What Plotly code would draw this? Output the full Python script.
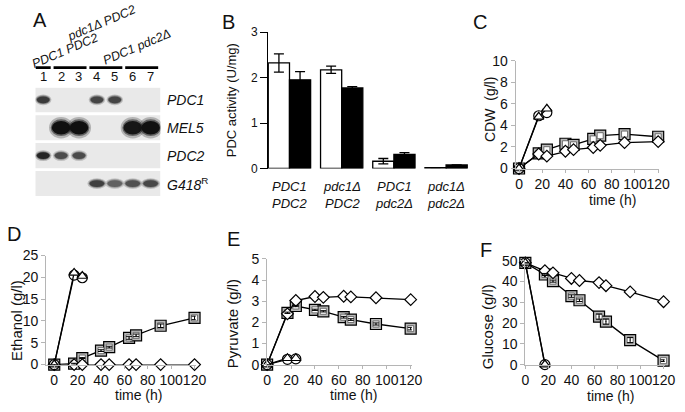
import plotly.graph_objects as go

W, H = 685, 412
FONT = "Liberation Sans, Arial, sans-serif"

# ---------------- data ----------------
# Panel A: Northern blot
lanes = [1, 2, 3, 4, 5, 6, 7]
blot_row_labels = ["<i>PDC1</i>", "<i>MEL5</i>", "<i>PDC2</i>", "<i>G418</i><sup>R</sup>"]
band_intensity = [
    [0.80, 0.00, 0.00, 0.75, 0.75, 0.00, 0.00],
    [0.00, 1.00, 1.00, 0.00, 0.00, 0.97, 1.00],
    [0.90, 0.72, 0.72, 0.00, 0.00, 0.00, 0.00],
    [0.00, 0.00, 0.00, 0.78, 0.62, 0.70, 0.74],
]
lane_groups = [(1, 1), (2, 3), (4, 5), (6, 7)]
group_labels = ["<i>PDC1 PDC2</i>", "<i>pdc1Δ PDC2</i>", "<i>PDC1 pdc2Δ</i>"]

# Panel B: PDC activity
strains = ["<i>PDC1</i><br><i>PDC2</i>", "<i>pdc1Δ</i><br><i>PDC2</i>",
           "<i>PDC1</i><br><i>pdc2Δ</i>", "<i>pdc1Δ</i><br><i>pdc2Δ</i>"]
pdc_white = [2.32, 2.17, 0.16, 0.02]
pdc_white_err = [0.20, 0.08, 0.06, 0.0]
pdc_black = [1.95, 1.77, 0.31, 0.08]
pdc_black_err = [0.18, 0.03, 0.04, 0.0]

# Panels C-F: time courses
t_fast = [0, 17, 24]
t_slow = [0, 17, 24, 40, 47, 64, 70, 91, 120]
t_glc_fast = [0, 17]

cdw_circle = [0, 4.9, 5.2]
cdw_triangle = [0, 4.8, 5.55]
cdw_square = [0, 1.4, 1.75, 2.3, 2.2, 2.75, 3.05, 3.2, 2.95]
cdw_diamond = [0, 1.35, 1.15, 1.6, 1.75, 1.95, 2.15, 2.4, 2.5]

eth_circle = [0, 20.5, 19.9]
eth_triangle = [0, 21.0, 20.3]
eth_square = [0, 0.2, 1.5, 3.2, 4.0, 6.1, 6.7, 8.9, 10.7]
eth_square_err = [0, 0.1, 0.1, 0.2, 0.2, 0.3, 0.3, 0.4, 0.4]
eth_diamond = [0, 0, 0, 0, 0, 0, 0, 0, 0]

pyr_circle = [0, 0.25, 0.27]
pyr_triangle = [0, 0.3, 0.3]
pyr_square = [0, 2.45, 2.77, 2.59, 2.52, 2.24, 2.13, 1.92, 1.70]
pyr_square_err = [0, 0.03, 0.03, 0.03, 0.03, 0.04, 0.04, 0.05, 0.06]
pyr_diamond = [0, 2.40, 3.03, 3.22, 3.18, 3.23, 3.20, 3.16, 3.07]

glc_circle = [49, 0]
glc_triangle = [49, 0]
glc_square = [49, 43.4, 40.2, 33.0, 31.0, 23.1, 20.7, 11.8, 1.9]
glc_square_err = [0, 0.5, 0.5, 0.6, 0.6, 1.2, 1.2, 1.2, 0.4]
glc_diamond = [49, 45.2, 44.2, 41.5, 40.5, 39.5, 38.0, 35.0, 30.3]


# ---------------- helpers ----------------
def fx(px):
    return px / W


def fy(py):
    return 1 - py / H


def dom_x(a, b):
    return [a / W, b / W]


def dom_y(top, bottom):
    return [1 - bottom / H, 1 - top / H]


fig = go.Figure()
shapes = []
annotations = []


def ann(text, x, y, size=13, xref="paper", yref="paper", angle=0, xanchor="center",
        yanchor="middle", color="#111"):
    annotations.append(dict(text=text, x=x, y=y, xref=xref, yref=yref, showarrow=False,
                            textangle=angle, xanchor=xanchor, yanchor=yanchor,
                            font=dict(family=FONT, size=size, color=color)))


# ---------------- Panel A ----------------
A_X = (32, 160)
A_Y = (83, 198)
ax_range = [0.56, 7.55]
ay_range = [3.53, -0.43]
lane_px = (A_X[1] - A_X[0]) / (ax_range[1] - ax_range[0])
row_px = (A_Y[1] - A_Y[0]) / (ay_range[0] - ay_range[1])
band_w_px = [13, 19, 13, 15]
band_h_px = [7, 14, 7, 7]

fig.add_trace(go.Scatter(x=[lanes[0]], y=[0], mode="markers", marker=dict(opacity=0),
                         xaxis="x", yaxis="y", hoverinfo="skip", showlegend=False))

for r, row in enumerate(band_intensity):
    shapes.append(dict(type="rect", xref="x", yref="y", x0=ax_range[0], x1=ax_range[1],
                       y0=r - 0.45, y1=r + 0.45, fillcolor="#e9e9e9", line=dict(width=0),
                       layer="below"))
    for lane, inten in zip(lanes, row):
        if inten <= 0:
            continue
        v = int(round(228 - 212 * inten))
        col = f"rgb({v},{v},{v})"
        hw = band_w_px[r] / lane_px / 2
        hh = band_h_px[r] / row_px / 2
        for scale_w, scale_h, op in [(1.3, 1.6, 0.25), (1.12, 1.25, 0.5), (1.0, 1.0, 1.0)]:
            shapes.append(dict(type="circle", xref="x", yref="y",
                               x0=lane - hw * scale_w, x1=lane + hw * scale_w,
                               y0=r - hh * scale_h, y1=r + hh * scale_h,
                               fillcolor=col, opacity=op, line=dict(width=0)))
    ann(blot_row_labels[r], fx(165), r, size=14, yref="y", xanchor="left")

for lane in lanes:
    ann(str(lane), lane, fy(71), size=13, xref="x")

for lo, hi in lane_groups:
    shapes.append(dict(type="line", xref="x", yref="paper", x0=lo - 0.42, x1=hi + 0.42,
                       y0=fy(62), y1=fy(62), line=dict(color="black", width=2.6)))

for lbl, (px, py) in zip(group_labels, [(62, 45), (100, 16), (136, 41)]):
    ann(lbl, fx(px), fy(py), size=12.5, angle=-23)

# ---------------- Panel B ----------------
fig.add_trace(go.Bar(x=list(range(len(strains))), y=pdc_white, xaxis="x2", yaxis="y2",
                     marker=dict(color="white", line=dict(color="black", width=1.3)),
                     error_y=dict(type="data", array=pdc_white_err, color="black",
                                  thickness=1.3, width=5),
                     showlegend=False, offsetgroup="w"))
fig.add_trace(go.Bar(x=list(range(len(strains))), y=pdc_black, xaxis="x2", yaxis="y2",
                     marker=dict(color="black", line=dict(color="black", width=1.3)),
                     error_y=dict(type="data", array=pdc_black_err, color="black",
                                  thickness=1.3, width=5),
                     showlegend=False, offsetgroup="b"))
for i, s in enumerate(strains):
    ann(s, i, fy(176), size=13, xref="x2", yanchor="top")


# ---------------- Panels C-F ----------------
def add_panel(xa, ya, circ, tri, sq, sq_err, dia, t_c):
    line = dict(color="black", width=1.3)
    common = dict(xaxis=xa, yaxis=ya, showlegend=False, cliponaxis=False, hoverinfo="skip")
    fig.add_trace(go.Scatter(x=t_slow, y=sq, mode="lines+markers", line=line,
                             marker=dict(symbol="square", size=11, color="#b8b8b8",
                                         line=dict(color="black", width=1.2)), **common))
    fig.add_trace(go.Scatter(x=t_slow, y=sq, mode="markers",
                             marker=dict(symbol="square", size=6, color="white",
                                         line=dict(color="#555", width=0.8)), **common))
    fig.add_trace(go.Scatter(x=t_slow, y=dia, mode="lines+markers", line=line,
                             marker=dict(symbol="diamond", size=9, color="white",
                                         line=dict(color="black", width=1.2)), **common))
    fig.add_trace(go.Scatter(x=t_c, y=circ, mode="lines+markers", line=line,
                             marker=dict(symbol="circle", size=10, color="white",
                                         line=dict(color="black", width=1.2)), **common))
    fig.add_trace(go.Scatter(x=t_c, y=tri, mode="lines+markers", line=line,
                             marker=dict(symbol="triangle-up", size=9, color="white",
                                         line=dict(color="black", width=1.2)), **common))
    if sq_err is not None:
        fig.add_trace(go.Scatter(x=t_slow, y=sq, mode="markers",
                                 marker=dict(size=1, color="black"),
                                 error_y=dict(type="data", array=sq_err, color="black",
                                              thickness=1, width=3), **common))


add_panel("x3", "y3", cdw_circle, cdw_triangle, cdw_square, None, cdw_diamond, t_fast)
add_panel("x4", "y4", eth_circle, eth_triangle, eth_square, eth_square_err, eth_diamond, t_fast)
add_panel("x5", "y5", pyr_circle, pyr_triangle, pyr_square, pyr_square_err, pyr_diamond, t_fast)
add_panel("x6", "y6", glc_circle, glc_triangle, glc_square, glc_square_err, glc_diamond,
          t_glc_fast)


def ts_axes(xpx, ypx, xr, yr, dy, fs, name):
    gray = "#b5b5b5"
    xa = dict(domain=dom_x(*xpx), range=xr, dtick=20, tick0=0, showline=True, linecolor=gray,
              linewidth=1, ticks="outside", ticklen=3, tickcolor=gray, showgrid=False,
              zeroline=False, tickangle=0, anchor="y" + name,
              tickfont=dict(family=FONT, size=fs, color="#111"))
    ya = dict(domain=dom_y(*ypx), range=yr, dtick=dy, tick0=0, showline=True, linecolor=gray,
              linewidth=1, ticks="outside", ticklen=4, tickcolor=gray, showgrid=False,
              zeroline=False, tickangle=0, anchor="x" + name,
              tickfont=dict(family=FONT, size=fs, color="#111"))
    return xa, ya


x3, y3 = ts_axes((523, 670), (55, 167), [-3, 121], [0, 10], 2, 14, "3")
x4, y4 = ts_axes((43, 196), (257.5, 371), [-7, 121], [0, 25], 5, 14, "4")
x5, y5 = ts_axes((269, 417), (261, 371), [0, 121], [0, 5], 1, 14, "5")
x6, y6 = ts_axes((533, 675.5), (263, 371), [0, 121], [0, 50], 10, 14, "6")

# axis titles
ann("time (h)", fx(622), fy(200), size=14)
ann("CDW  (g/l)", fx(497), fy(106), size=14, angle=-90)
ann("time (h)", fx(137), fy(403), size=14)
ann("Ethanol (g/l)", fx(13), fy(325), size=15, angle=-90)
ann("time (h)", fx(357), fy(403), size=14)
ann("Pyruvate (g/l)", fx(233), fy(328), size=15, angle=-90)
ann("time (h)", fx(620), fy(404), size=14)
ann("Glucose (g/l)", fx(494), fy(332), size=15, angle=-90)
ann("PDC activity (U/mg)", fx(232), fy(96), size=13, angle=-90)

# panel letters
for letter, (px, py) in zip("ABCDEF", [(37, 12), (230, 15), (487, 15), (10, 235),
                                       (235, 240), (493, 252)]):
    ann(letter, fx(px), fy(py), size=20)

fig.update_layout(
    width=W, height=H, autosize=False,
    margin=dict(l=0, r=0, t=0, b=0),
    paper_bgcolor="white", plot_bgcolor="white",
    font=dict(family=FONT, color="#111"),
    barmode="group", bargap=0.19, bargroupgap=0,
    xaxis=dict(domain=dom_x(*A_X), range=ax_range, visible=False, anchor="y"),
    yaxis=dict(domain=dom_y(*A_Y), range=ay_range, visible=False, anchor="x"),
    xaxis2=dict(domain=dom_x(270, 476), range=[-0.41, 3.45], showline=False,
                showticklabels=False, ticks="", showgrid=False, zeroline=False, anchor="y2"),
    yaxis2=dict(domain=dom_y(25, 167), range=[0, 3], tickvals=[0, 1, 2, 3], ticks="outside",
                ticklen=7, showline=True, linecolor="black", linewidth=1, tickcolor="black",
                showgrid=False, zeroline=False, anchor="x2",
                tickfont=dict(family=FONT, size=12, color="#111")),
    xaxis3=x3, yaxis3=y3, xaxis4=x4, yaxis4=y4, xaxis5=x5, yaxis5=y5, xaxis6=x6, yaxis6=y6,
    shapes=shapes, annotations=annotations,
)

fig.write_html("out.html", config={"displayModeBar": False, "staticPlot": True},
               post_script="document.body.style.margin='0';")
